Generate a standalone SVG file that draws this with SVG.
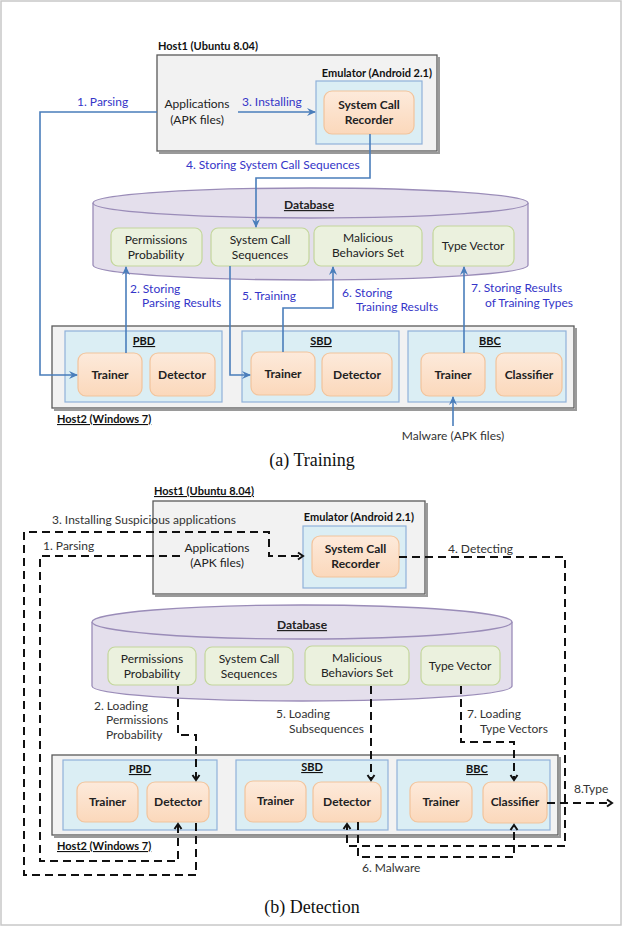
<svg xmlns="http://www.w3.org/2000/svg" width="624" height="938" viewBox="0 0 624 938">
<style>
text{font-family:Lato,"Liberation Sans",sans-serif;font-size:12px;fill:#222}
.b{font-weight:bold;font-size:11px;fill:#111}
.bx{font-weight:bold;font-size:12px;fill:#222}
.u{text-decoration:underline}
.c{text-anchor:middle}
.blue{fill:#3535c8}
.gr{fill:#333}
.cap{font-family:"Liberation Serif",serif;font-size:18px;fill:#111}
.host{fill:#f2f2f2;stroke:#595959;stroke-width:1.3}
.shadow{fill:none;stroke:#9a9a9a;stroke-width:2}
.mod{fill:#dbeef4;stroke:#8fb1d9;stroke-width:1.2}
.peach{fill:url(#pg);stroke:#f2c49c;stroke-width:1.2}
.green{fill:#ebf1de;stroke:#c3d69b;stroke-width:1.2}
.cyl{fill:#e4dfec;stroke:#9a8cb8;stroke-width:1.3}
.bl{fill:none;stroke:#4a7ebb;stroke-width:1.6}
.dl{fill:none;stroke:#111;stroke-width:2;stroke-dasharray:8 5}
</style>
<defs>
<linearGradient id="pg" x1="0" y1="0" x2="0" y2="1"><stop offset="0" stop-color="#fdeadb"/><stop offset="1" stop-color="#fbd8bb"/></linearGradient>
<marker id="ab" markerWidth="10" markerHeight="10" refX="8" refY="5" orient="auto" markerUnits="userSpaceOnUse"><path d="M0,1 L9,5 L0,9 L3,5 z" fill="#4a7ebb"/></marker>
<marker id="ad" markerWidth="10" markerHeight="10" refX="7" refY="5" orient="auto" markerUnits="userSpaceOnUse"><path d="M2,1.5 L7,5 L2,8.5" fill="none" stroke="#111" stroke-width="2"/></marker>
</defs>
<rect x="1" y="1" width="620" height="924" fill="#fff" stroke="#c8c8c8" stroke-width="1.5"/>

<!-- ===== (a) Training ===== -->
<g id="t-host1">
<text class="b" x="158" y="50">Host1 (Ubuntu 8.04)</text>
<path class="shadow" d="M439,57 L439,153 L159,153"/>
<rect class="host" x="157" y="55" width="280" height="96"/>
<text class="c" x="197" y="108">Applications</text>
<text class="c" x="197" y="124">(APK files)</text>
</g>
<g id="t-emulator">
<text class="b" x="432" y="77" text-anchor="end">Emulator (Android 2.1)</text>
<rect class="mod" x="316" y="81" width="106" height="63"/>
</g>
<g id="t-recorder">
<rect class="peach" x="324" y="91" width="90" height="43" rx="8"/>
<text class="bx c" x="369" y="109">System Call</text>
<text class="bx c" x="369" y="124">Recorder</text>
</g>
<g id="t-database">
<path class="cyl" d="M93,203 A217.5,15 0 0 1 528,203 L528,265 A217.5,15 0 0 1 93,265 Z"/>
<path class="cyl" fill="none" d="M93,203 A217.5,15 0 0 0 528,203"/>
<text class="bx c u" x="309" y="209">Database</text>
</g>
<g id="t-perm"><rect class="green" x="111" y="228" width="91" height="38" rx="7"/>
<text class="c" x="156" y="244">Permissions</text><text class="c" x="156" y="259">Probability</text></g>
<g id="t-scs"><rect class="green" x="211" y="228" width="98" height="38" rx="7"/>
<text class="c" x="260" y="244">System Call</text><text class="c" x="260" y="259">Sequences</text></g>
<g id="t-mbs"><rect class="green" x="314" y="226" width="108" height="40" rx="7"/>
<text class="c" x="368" y="242">Malicious</text><text class="c" x="368" y="257">Behaviors Set</text></g>
<g id="t-tv"><rect class="green" x="433" y="226" width="81" height="40" rx="7"/>
<text class="c" x="473" y="250">Type Vector</text></g>

<g id="t-host2">
<path class="shadow" d="M576,328 L576,410 L54,410"/>
<rect class="host" x="52" y="326" width="522" height="82"/>
<text class="b u" x="57" y="423">Host2 (Windows 7)</text>
</g>
<g id="t-pbd"><rect class="mod" x="65" y="331" width="157" height="71"/>
<text class="b u c" x="144" y="345">PBD</text></g>
<g id="t-pbd-trainer"><rect class="peach" x="78" y="353" width="64" height="43" rx="8"/><text class="bx c" x="110" y="379">Trainer</text></g>
<g id="t-pbd-detector"><rect class="peach" x="150" y="353" width="65" height="43" rx="8"/><text class="bx c" x="182" y="379">Detector</text></g>
<g id="t-sbd"><rect class="mod" x="242" y="331" width="157" height="71"/>
<text class="b u c" x="321" y="345">SBD</text></g>
<g id="t-sbd-trainer"><rect class="peach" x="251" y="352" width="64" height="43" rx="8"/><text class="bx c" x="283" y="378">Trainer</text></g>
<g id="t-sbd-detector"><rect class="peach" x="322" y="353" width="70" height="43" rx="8"/><text class="bx c" x="357" y="379">Detector</text></g>
<g id="t-bbc"><rect class="mod" x="408" y="331" width="158" height="71"/>
<text class="b u c" x="490" y="345">BBC</text></g>
<g id="t-bbc-trainer"><rect class="peach" x="421" y="353" width="64" height="43" rx="8"/><text class="bx c" x="453" y="379">Trainer</text></g>
<g id="t-bbc-classifier"><rect class="peach" x="496" y="353" width="66" height="43" rx="8"/><text class="bx c" x="529" y="379">Classifier</text></g>
<g id="t-malware"><text class="c gr" x="453" y="440">Malware (APK files)</text></g>

<g id="t-connectors">
<path class="bl" d="M157,112 L40,112 L40,375 L77,375" marker-end="url(#ab)"/>
<path class="bl" d="M238,112 L315,112" marker-end="url(#ab)"/>
<path class="bl" d="M370,134 L370,178 L256,178 L256,227" marker-end="url(#ab)"/>
<path class="bl" d="M126,353 L126,267" marker-end="url(#ab)"/>
<path class="bl" d="M230,266 L230,375 L250,375" marker-end="url(#ab)"/>
<path class="bl" d="M283,352 L283,308 L333,308 L333,267" marker-end="url(#ab)"/>
<path class="bl" d="M464,353 L464,267" marker-end="url(#ab)"/>
<path class="bl" d="M453,426 L453,397" marker-end="url(#ab)"/>
<text class="blue" x="77" y="106">1. Parsing</text>
<text class="blue" x="242" y="106">3. Installing</text>
<text class="blue" x="186" y="169">4. Storing System Call Sequences</text>
<text class="blue" x="130" y="293">2. Storing</text>
<text class="blue" x="142" y="307">Parsing Results</text>
<text class="blue" x="242" y="300">5. Training</text>
<text class="blue" x="342" y="297">6. Storing</text>
<text class="blue" x="356" y="311">Training Results</text>
<text class="blue" x="471" y="292">7. Storing Results</text>
<text class="blue" x="485" y="307">of Training Types</text>
</g>
<text class="cap c" x="312" y="466">(a) Training</text>

<!-- ===== (b) Detection ===== -->
<g id="d-host1">
<text class="b u" x="154" y="495">Host1 (Ubuntu 8.04)</text>
<path class="shadow" d="M427,503 L427,596 L155,596"/>
<rect class="host" x="153" y="501" width="272" height="93"/>
<text class="c" x="217" y="552">Applications</text>
<text class="c" x="217" y="567">(APK files)</text>
</g>
<g id="d-emulator">
<text class="b" x="414" y="521" text-anchor="end">Emulator (Android 2.1)</text>
<rect class="mod" x="303" y="526" width="103" height="62"/>
</g>
<g id="d-recorder">
<rect class="peach" x="312" y="536" width="87" height="41" rx="8"/>
<text class="bx c" x="355.5" y="553">System Call</text>
<text class="bx c" x="355.5" y="568">Recorder</text>
</g>
<g id="d-database">
<path class="cyl" d="M92,622 A210,17 0 0 1 512,622 L512,686 A210,15 0 0 1 92,686 Z"/>
<path class="cyl" fill="none" d="M92,622 A210,17 0 0 0 512,622"/>
<text class="bx c u" x="302" y="629">Database</text>
</g>
<g id="d-perm"><rect class="green" x="108" y="647" width="88" height="38" rx="7"/>
<text class="c" x="152" y="663">Permissions</text><text class="c" x="152" y="678">Probability</text></g>
<g id="d-scs"><rect class="green" x="205" y="647" width="88" height="38" rx="7"/>
<text class="c" x="249" y="663">System Call</text><text class="c" x="249" y="678">Sequences</text></g>
<g id="d-mbs"><rect class="green" x="305" y="646" width="104" height="39" rx="7"/>
<text class="c" x="357" y="662">Malicious</text><text class="c" x="357" y="677">Behaviors Set</text></g>
<g id="d-tv"><rect class="green" x="421" y="646" width="79" height="39" rx="7"/>
<text class="c" x="460" y="670">Type Vector</text></g>

<g id="d-host2">
<path class="shadow" d="M560,757 L560,837 L54,837"/>
<rect class="host" x="52" y="755" width="506" height="80"/>
<text class="b u" x="57" y="850">Host2 (Windows 7)</text>
</g>
<g id="d-pbd"><rect class="mod" x="63" y="760" width="154" height="70"/>
<text class="b u c" x="140" y="773">PBD</text></g>
<g id="d-pbd-trainer"><rect class="peach" x="77" y="782" width="61" height="40" rx="8"/><text class="bx c" x="107.5" y="806">Trainer</text></g>
<g id="d-pbd-detector"><rect class="peach" x="147" y="782" width="62" height="40" rx="8"/><text class="bx c" x="178" y="806">Detector</text></g>
<g id="d-sbd"><rect class="mod" x="236" y="760" width="152" height="70"/>
<text class="b u c" x="312" y="771">SBD</text></g>
<g id="d-sbd-trainer"><rect class="peach" x="245" y="781" width="61" height="41" rx="8"/><text class="bx c" x="275.5" y="805">Trainer</text></g>
<g id="d-sbd-detector"><rect class="peach" x="313" y="782" width="68" height="40" rx="8"/><text class="bx c" x="347" y="806">Detector</text></g>
<g id="d-bbc"><rect class="mod" x="397" y="760" width="153" height="70"/>
<text class="b u c" x="477" y="773">BBC</text></g>
<g id="d-bbc-trainer"><rect class="peach" x="410" y="782" width="62" height="40" rx="8"/><text class="bx c" x="441" y="806">Trainer</text></g>
<g id="d-bbc-classifier"><rect class="peach" x="483" y="782" width="64" height="41" rx="8"/><text class="bx c" x="515" y="806">Classifier</text></g>

<g id="d-connectors">
<path class="dl" d="M196,823 L196,875 L24,875 L24,532 L269,532 L269,556 L303,556" marker-end="url(#ad)"/>
<path class="dl" d="M180,556 L40,556 L40,861 L178,861 L178,824" marker-end="url(#ad)"/>
<path class="dl" d="M178,686 L178,735 L196,735 L196,780" marker-end="url(#ad)"/>
<path class="dl" d="M371,686 L371,780" marker-end="url(#ad)"/>
<path class="dl" d="M461,686 L461,742 L514,742 L514,780" marker-end="url(#ad)"/>
<path class="dl" d="M399,557 L565,557 L565,846 L347,846 L347,824" marker-end="url(#ad)"/>
<path class="dl" d="M358,822 L358,857 L514,857 L514,825" marker-end="url(#ad)"/>
<path class="dl" d="M547,803 L612,803" marker-end="url(#ad)"/>
<text class="gr" x="52" y="524">3. Installing Suspicious applications</text>
<text class="gr" x="43" y="550">1. Parsing</text>
<text class="gr" x="448" y="553">4. Detecting</text>
<text class="gr" x="94" y="710">2. Loading</text>
<text class="gr" x="106" y="724">Permissions</text>
<text class="gr" x="106" y="739">Probability</text>
<text class="gr" x="276" y="718">5. Loading</text>
<text class="gr" x="289" y="733">Subsequences</text>
<text class="gr" x="467" y="718">7. Loading</text>
<text class="gr" x="480" y="733">Type Vectors</text>
<text class="gr" x="362" y="872">6. Malware</text>
<text class="gr" x="574" y="793">8.Type</text>
</g>
<text class="cap c" x="312" y="913">(b) Detection</text>
</svg>
